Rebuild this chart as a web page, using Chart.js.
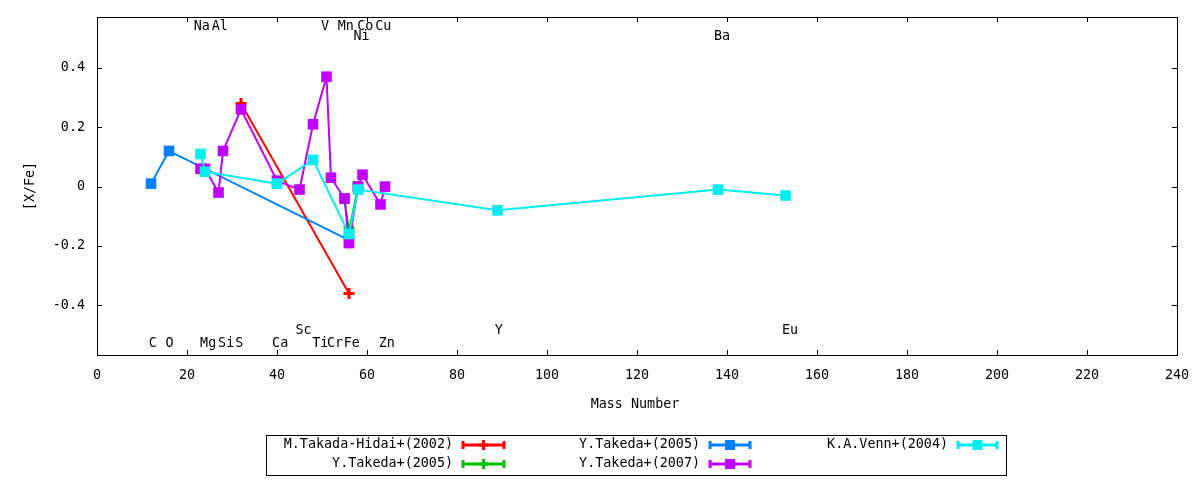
<!DOCTYPE html>
<html>
<head>
<meta charset="utf-8">
<script src="https://cdn.jsdelivr.net/npm/chart.js@4.4.0/dist/chart.umd.min.js"></script>
<style>
  body { margin: 0; background: #fff; }
  #wrap { width: 1200px; height: 480px; }
</style>
</head>
<body>
<div id="wrap"><canvas id="chart" width="1200" height="480"></canvas></div>
<script>
// series: [X/Fe] against mass number
var redX = [32, 56]
var redY = [0.28, -0.36]
var greenX = [55, 56, 58]
var greenY = [-0.04, -0.15, 0.0]
var blueX = [12, 16, 56]
var blueY = [0.01, 0.12, -0.18]
var purpleX = [23, 24, 27, 28, 32, 40, 45, 48, 51, 52, 55, 56, 58, 59, 63, 64]
var purpleY = [0.06, 0.06, -0.02, 0.12, 0.26, 0.02, -0.01, 0.21, 0.37, 0.03, -0.04, -0.19, 0.0, 0.04, -0.06, 0.0]
var cyanX = [23, 24, 40, 48, 56, 58, 89, 138, 153]
var cyanY = [0.11, 0.05, 0.01, 0.09, -0.16, -0.01, -0.08, -0.01, -0.03]

var seriesNames = ['M.Takada-Hidai+(2002)', 'Y.Takeda+(2005)', 'Y.Takeda+(2005)', 'Y.Takeda+(2007)', 'K.A.Venn+(2004)']
var seriesColors = ['#ff0000', '#00c000', '#0080ff', '#c000ff', '#00eeee']

// element labels
var elemNames = ['C', 'O', 'Na', 'Mg', 'Al', 'Si', 'S', 'Ca', 'Sc', 'Ti', 'V', 'Cr', 'Mn', 'Fe', 'Ni', 'Co', 'Cu', 'Zn', 'Y', 'Ba', 'Eu']
var elemX = [12.4, 16.1, 23.3, 24.7, 27.3, 28.7, 31.6, 40.7, 45.9, 49.6, 50.7, 52.9, 55.3, 56.6, 58.8, 59.6, 63.6, 64.4, 89.3, 138.9, 154]
var elemY = [-0.53, -0.53, 0.54, -0.53, 0.54, -0.53, -0.53, -0.53, -0.485, -0.53, 0.54, -0.53, 0.54, -0.53, 0.505, 0.54, 0.54, -0.53, -0.485, 0.505, -0.485]

var xTicks = [0, 20, 40, 60, 80, 100, 120, 140, 160, 180, 200, 220, 240]
var yTicks = [-0.4, -0.2, 0, 0.2, 0.4]
var yTickLabels = ['-0.4', '-0.2', '0', '0.2', '0.4']

var FONT = '"DejaVu Sans Mono", monospace'
var FSIZE = 13.4

function pts(xs, ys) {
    return xs.map(function (x, i) { return { x: x, y: ys[i] } })
}

function makeSet(i, xs, ys, style) {
    return {
        label: seriesNames[i],
        data: pts(xs, ys),
        borderColor: seriesColors[i],
        backgroundColor: seriesColors[i],
        borderWidth: 2,
        pointStyle: style,
        pointRadius: style == 'cross' ? 5.5 : 7.5,
        pointBorderWidth: style == 'cross' ? 3 : 0,
        pointBorderColor: seriesColors[i],
        showLine: true,
        tension: 0,
        order: 5 - i
    }
}

function drawMarker(ctx, style, x, y, color) {
    ctx.fillStyle = color
    ctx.strokeStyle = color
    if (style == 'cross') {
        ctx.lineWidth = 3
        ctx.beginPath()
        ctx.moveTo(x - 5, y); ctx.lineTo(x + 5, y)
        ctx.moveTo(x, y - 5); ctx.lineTo(x, y + 5)
        ctx.stroke()
    } else {
        ctx.fillRect(x - 5, y - 5, 10, 10)
    }
}

var extras = {
    id: 'extras',
    afterDraw: function (chart) {
        var ctx = chart.ctx
        var a = chart.chartArea
        var xs = chart.scales.x
        var ys = chart.scales.y
        ctx.save()
        // frame
        ctx.strokeStyle = '#000'
        ctx.lineWidth = 1
        ctx.strokeRect(Math.round(a.left) + 0.5, Math.round(a.top) + 0.5, Math.round(a.right - a.left), Math.round(a.bottom - a.top))
        // inward ticks, mirrored
        ctx.beginPath()
        xTicks.forEach(function (v) {
            var px = Math.round(xs.getPixelForValue(v)) + 0.5
            ctx.moveTo(px, a.bottom); ctx.lineTo(px, a.bottom - 5)
            ctx.moveTo(px, a.top); ctx.lineTo(px, a.top + 5)
        })
        yTicks.forEach(function (v) {
            var py = Math.round(ys.getPixelForValue(v)) + 0.5
            ctx.moveTo(a.left, py); ctx.lineTo(a.left + 5, py)
            ctx.moveTo(a.right, py); ctx.lineTo(a.right - 5, py)
        })
        ctx.stroke()

        // element labels
        ctx.fillStyle = '#000'
        ctx.font = FSIZE + 'px ' + FONT
        ctx.textAlign = 'center'
        ctx.textBaseline = 'middle'
        elemNames.forEach(function (n, i) {
            ctx.fillText(n, xs.getPixelForValue(elemX[i]), ys.getPixelForValue(elemY[i]))
        })

        // axis titles
        ctx.fillText('Mass Number', 635, 405)
        ctx.save()
        ctx.translate(31, 186)
        ctx.rotate(-Math.PI / 2)
        ctx.fillText('[X/Fe]', 0, 0)
        ctx.restore()

        // legend box
        ctx.strokeStyle = '#000'
        ctx.lineWidth = 1
        ctx.strokeRect(266.5, 435.5, 740, 40)
        var slots = [
            { t: 453, s: 462, e: 505, y: 445, st: 'cross' },
            { t: 453, s: 462, e: 505, y: 464, st: 'cross' },
            { t: 700, s: 709, e: 751, y: 445, st: 'rect' },
            { t: 700, s: 709, e: 751, y: 464, st: 'rect' },
            { t: 948, s: 957, e: 998, y: 445, st: 'rect' }
        ]
        ctx.textAlign = 'right'
        slots.forEach(function (sl, i) {
            var c = seriesColors[i]
            ctx.fillStyle = '#000'
            ctx.fillText(seriesNames[i], sl.t, sl.y)
            ctx.strokeStyle = c
            ctx.lineWidth = 3
            ctx.beginPath()
            ctx.moveTo(sl.s, sl.y); ctx.lineTo(sl.e, sl.y)
            ctx.moveTo(sl.s + 1, sl.y - 4); ctx.lineTo(sl.s + 1, sl.y + 4)
            ctx.moveTo(sl.e - 1, sl.y - 4); ctx.lineTo(sl.e - 1, sl.y + 4)
            ctx.stroke()
            drawMarker(ctx, sl.st, (sl.s + sl.e) / 2, sl.y, c)
        })
        ctx.restore()
    }
}

var ctx = document.getElementById('chart').getContext('2d')
var myChart = new Chart(ctx, {
    type: 'line',
    data: {
        datasets: [
            makeSet(0, redX, redY, 'cross'),
            makeSet(1, greenX, greenY, 'rect'),
            makeSet(2, blueX, blueY, 'rect'),
            makeSet(3, purpleX, purpleY, 'rect'),
            makeSet(4, cyanX, cyanY, 'rect')
        ]
    },
    options: {
        responsive: false,
        animation: false,
        events: [],
        layout: { padding: { top: 17, right: 23, left: 0, bottom: 0 } },
        plugins: {
            legend: { display: false },
            tooltip: { enabled: false }
        },
        scales: {
            x: {
                type: 'linear',
                min: 0,
                max: 240,
                afterBuildTicks: function (s) { s.ticks = xTicks.map(function (v) { return { value: v } }) },
                afterFit: function (s) { s.height = 125; s.paddingLeft = 0; s.paddingRight = 0 },
                grid: { display: false, drawTicks: false },
                border: { display: false },
                ticks: { color: '#000', font: { family: FONT, size: FSIZE }, padding: 12, maxRotation: 0, autoSkip: false }
            },
            y: {
                type: 'linear',
                min: -0.567,
                max: 0.571,
                afterBuildTicks: function (s) { s.ticks = yTicks.map(function (v) { return { value: v } }) },
                afterFit: function (s) { s.width = 97; s.paddingTop = 0; s.paddingBottom = 0 },
                grid: { display: false, drawTicks: false },
                border: { display: false },
                ticks: {
                    color: '#000',
                    font: { family: FONT, size: FSIZE },
                    padding: 12,
                    autoSkip: false,
                    callback: function (v) {
                        var i = yTicks.indexOf(v)
                        return i >= 0 ? yTickLabels[i] : ''
                    }
                }
            }
        }
    },
    plugins: [extras]
})
</script>
</body>
</html>
